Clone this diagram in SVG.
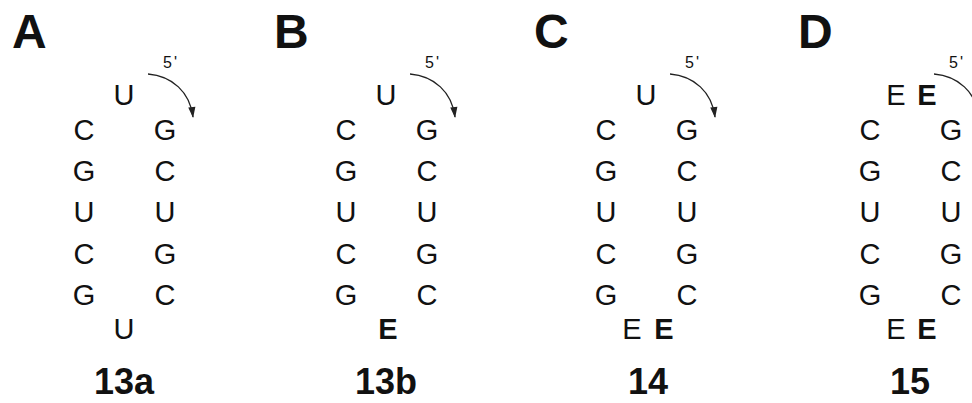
<svg xmlns="http://www.w3.org/2000/svg" width="972" height="403" viewBox="0 0 972 403">
  <style>
    .panel { font-family: "Liberation Sans", Arial, sans-serif; font-weight: bold; font-size: 48px; fill: #111; }
    .base { font-family: "Liberation Sans", Arial, sans-serif; font-size: 29px; fill: #111; text-anchor: middle; }
    .mod { font-weight: bold; }
    .end { font-family: "Liberation Sans", Arial, sans-serif; font-size: 16px; fill: #111; letter-spacing: 2px; }
    .name { font-family: "Liberation Sans", Arial, sans-serif; font-weight: bold; font-size: 36px; fill: #111; text-anchor: middle; }
    .arc { fill: none; stroke: #222; stroke-width: 1.3; marker-end: url(#tip); }
  </style>
  <defs>
    <marker id="tip" viewBox="0 0 12 10" refX="11" refY="5" markerWidth="12" markerHeight="9" markerUnits="userSpaceOnUse" orient="auto">
      <path d="M0,1 L12,5 L0,9 Z" fill="#222"/>
    </marker>
    <!-- shared stem: 5 base pairs of the hairpin -->
    <g id="stem">
      <text class="base" x="84" y="140">C</text><text class="base" x="165" y="140">G</text>
      <text class="base" x="84" y="181">G</text><text class="base" x="165" y="181">C</text>
      <text class="base" x="84" y="222">U</text><text class="base" x="165" y="222">U</text>
      <text class="base" x="84" y="264">C</text><text class="base" x="165" y="264">G</text>
      <text class="base" x="84" y="305">G</text><text class="base" x="165" y="305">C</text>
    </g>
  </defs>

  <!-- panel A: 13a -->
  <g id="panel-A">
    <text class="panel" x="12" y="48">A</text>
    <text class="end" x="163" y="68">5'</text>
    <text class="base" x="124" y="105">U</text>
    <use href="#stem"/>
    <text class="base" x="124" y="339">U</text>
    <text class="name" x="124" y="394">13a</text>
  </g>

  <!-- panel B: 13b -->
  <g id="panel-B" transform="translate(262,0)">
    <text class="panel" x="12" y="48">B</text>
    <text class="end" x="163" y="68">5'</text>
    <text class="base" x="124" y="105">U</text>
    <use href="#stem"/>
    <text class="base mod" x="126" y="339">E</text>
    <text class="name" x="124" y="394">13b</text>
  </g>

  <!-- panel C: 14 -->
  <g id="panel-C" transform="translate(522,0)">
    <text class="panel" x="12" y="48">C</text>
    <text class="end" x="163" y="68">5'</text>
    <text class="base" x="124" y="105">U</text>
    <use href="#stem"/>
    <text class="base" x="110" y="339">E</text>
    <text class="base mod" x="142" y="339">E</text>
    <text class="name" x="126" y="394">14</text>
  </g>

  <!-- panel D: 15 -->
  <g id="panel-D" transform="translate(786,0)">
    <text class="panel" x="12" y="48">D</text>
    <text class="end" x="163" y="68">5'</text>
    <text class="base" x="110" y="105">E</text>
    <text class="base mod" x="141" y="105">E</text>
    <use href="#stem"/>
    <text class="base" x="110" y="339">E</text>
    <text class="base mod" x="141" y="339">E</text>
    <text class="name" x="124" y="394">15</text>
  </g>

  <!-- 5' direction arrows -->
  <g id="connectors">
    <path class="arc" d="M148,74 C172,76 190,92 193,117"/>
    <path class="arc" d="M410,74 C434,76 452,92 455,117"/>
    <path class="arc" d="M670,74 C694,76 712,92 715,117"/>
    <path class="arc" d="M934,74 C958,76 976,92 979,117"/>
  </g>
</svg>
